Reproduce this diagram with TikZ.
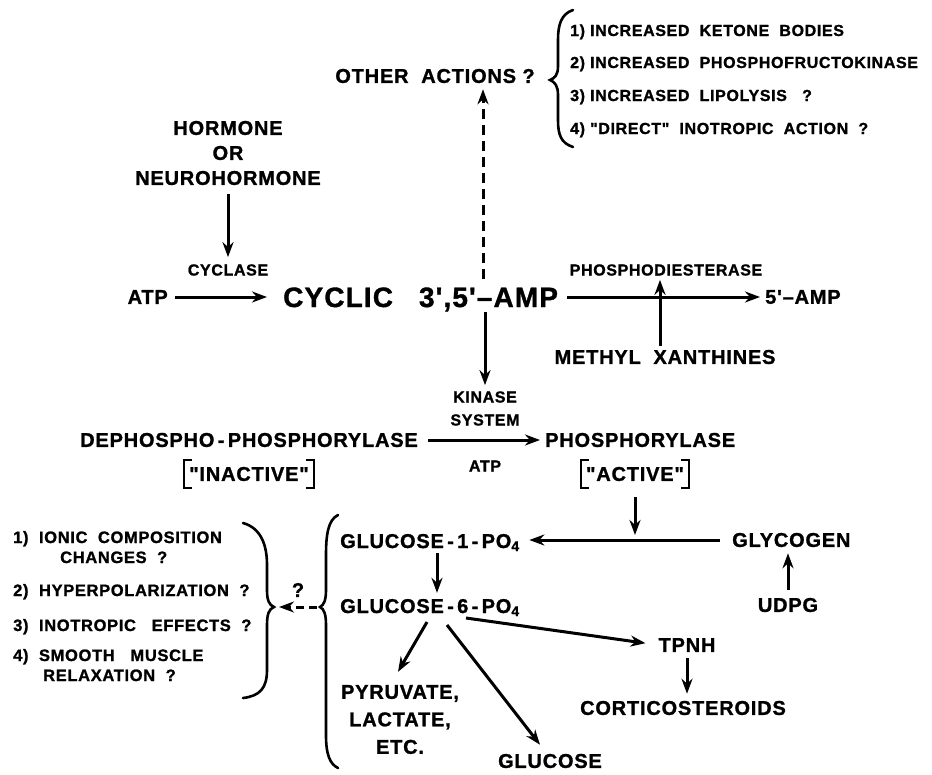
\documentclass[tikz,border=0pt]{standalone}
\usepackage{fontspec}
\setmainfont{Liberation Sans}[Ligatures=TeXOff, LetterSpace=4, BoldFeatures={FakeBold=1.2}]
\usetikzlibrary{arrows.meta}
\tikzset{
  arr/.style={line width=3pt, -{Stealth[length=15pt,width=11pt]}},
  darr/.style={arr, dash pattern=on 10pt off 6pt},
  brc/.style={line width=2.6pt, line cap=round},
  brk/.style={line width=2.2pt},
  L/.style={inner sep=0pt, font=\fontsize{20}{25}\selectfont\bfseries, align=center},
  LL/.style={inner sep=0pt, font=\fontsize{20}{27.5}\selectfont\bfseries, align=center},
  S/.style={inner sep=0pt, font=\fontsize{16}{23}\selectfont\bfseries, align=center},
  M/.style={inner sep=0pt, font=\fontsize{16.5}{20}\selectfont\bfseries, anchor=base west},
  MT/.style={inner sep=0pt, font=\fontsize{16}{20}\selectfont\bfseries, anchor=base west},
  B/.style={inner sep=0pt, font=\fontsize{28}{30}\selectfont\bfseries, anchor=base west},
}
\newcommand\subf[1]{\raisebox{-3pt}{\fontsize{14}{14}\selectfont #1}}
\begin{document}
\begin{tikzpicture}[x=1pt,y=-1pt]
\fill[white] (0,0) rectangle (932,774);
\useasboundingbox (0,0) rectangle (932,774);

% ---- top: other actions
\node[L] (other) at (435,76) {OTHER\ \ ACTIONS\ ?};
\node[MT] (t1) at (570,36) {1)\ INCREASED\ \ KETONE\ \ BODIES};
\node[MT] (t2) at (570,68) {2)\ INCREASED\ \ PHOSPHOFRUCTOKINASE};
\node[MT] (t3) at (570,101) {3)\ INCREASED\ \ LIPOLYSIS\ \ \ ?};
\node[MT] (t4) at (570,134) {4)\ "DIRECT"\ \ INOTROPIC\ \ ACTION\ \ ?};
\draw[brc] (573,10) .. controls (561,14) and (558,25) .. (558,40) -- (558,66)
  .. controls (558,75) and (555,78) .. (550,80)
  .. controls (555,82) and (558,86) .. (558,95) -- (558,120)
  .. controls (558,135) and (561,143) .. (573,147);

% ---- hormone
\node[L] (horm) at (228,153) {HORMONE\\OR\\NEUROHORMONE};
\node[S] (cyclase) at (228,270) {CYCLASE};
\draw[arr, shorten <=9pt, shorten >=7pt] (horm.south) -- (cyclase.north);

% ---- cyclic AMP line
\node[L, anchor=east] (atp1) at (168,297) {ATP};
\node[B] (cyc) at (283,307) {CYCLIC\hspace{26pt}3',5'–AMP};
\node[L, anchor=west] (amp5) at (765,297) {5'–AMP};
\node[S] (pde) at (666,270) {PHOSPHODIESTERASE};
\node[L] (methyl) at (665,357) {METHYL\ \ XANTHINES};
\coordinate (mx) at (660,300);
\coordinate (hubT) at (483,279);
\coordinate (hubB) at (485,312);

\draw[arr, shorten <=7pt, shorten >=16pt] (atp1.east) -- (atp1.east -| cyc.west);
\draw[arr, shorten <=9pt, shorten >=5pt] (cyc.east |- amp5.west) -- (amp5.west);
\draw[arr, shorten <=4pt, shorten >=4pt] (methyl.north -| mx) -- (pde.south -| mx);
\draw[darr, shorten >=6pt] (hubT) -- (other.south -| hubT);

% ---- kinase
\node[S] (kinase) at (485,408.5) {KINASE\\SYSTEM};
\draw[arr, shorten >=6pt] (hubB) -- (kinase.north -| hubB);

\node[L, anchor=east] (deph) at (418,440) {DEPHOSPHO\,-\,PHOSPHORYLASE};
\node[L, anchor=west] (phos) at (545,440) {PHOSPHORYLASE};
\draw[arr, shorten <=10pt, shorten >=5pt] (deph.east) -- (phos.west);

\node[L] (inact) at (249,474) {"INACTIVE"};
\node[S] (atp2) at (485,466) {ATP};
\node[L] (act) at (635,474) {"ACTIVE"};
\draw[brk] ([xshift=3pt,yshift=14pt]inact.west) -- ([xshift=-5pt,yshift=14pt]inact.west)
  -- ([xshift=-5pt,yshift=-14pt]inact.west) -- ([xshift=3pt,yshift=-14pt]inact.west);
\draw[brk] ([xshift=-3pt,yshift=14pt]inact.east) -- ([xshift=5pt,yshift=14pt]inact.east)
  -- ([xshift=5pt,yshift=-14pt]inact.east) -- ([xshift=-3pt,yshift=-14pt]inact.east);
\draw[brk] ([xshift=3pt,yshift=14pt]act.west) -- ([xshift=-5pt,yshift=14pt]act.west)
  -- ([xshift=-5pt,yshift=-14pt]act.west) -- ([xshift=3pt,yshift=-14pt]act.west);
\draw[brk] ([xshift=-3pt,yshift=14pt]act.east) -- ([xshift=5pt,yshift=14pt]act.east)
  -- ([xshift=5pt,yshift=-14pt]act.east) -- ([xshift=-3pt,yshift=-14pt]act.east);

% ---- glycogen part
\node[L, anchor=west] (glyc) at (732,540) {GLYCOGEN};
\node[L] (udpg) at (788,605) {UDPG};
\node[L, anchor=base west] (g1p) at (340,548) {GLUCOSE\,-\,1\,-\,PO\subf{4}};
\node[L, anchor=base west] (g6p) at (340,613) {GLUCOSE\,-\,6\,-\,PO\subf{4}};
\coordinate (j) at (635,540);
\coordinate (gx) at (437,580);
\draw[arr, shorten <=16pt, shorten >=5pt] (act.south) -- (j);
\draw[arr, shorten <=12pt, shorten >=10pt] (glyc.west) -- (g1p.east |- glyc.west);
\draw[arr, shorten <=8pt, shorten >=6pt] (udpg.north) -- (udpg.north |- glyc.south);
\draw[arr, shorten <=2pt, shorten >=6pt] (g1p.south -| gx) -- (g6p.north -| gx);

\node[LL] (pyr) at (400,719.5) {PYRUVATE,\\LACTATE,\\ETC.};
\node[L] (glucose) at (550,761) {GLUCOSE};
\node[L] (tpnh) at (687,645) {TPNH};
\node[L] (cortico) at (683,708) {CORTICOSTEROIDS};

\draw[arr] ([xshift=87pt,yshift=-9pt]g6p.base west) -- ([xshift=-2pt,yshift=13pt]pyr.north);
\draw[arr] ([xshift=107pt,yshift=-12pt]g6p.base west) -- ([xshift=-10pt,yshift=9pt]glucose.north);
\draw[arr, shorten >=13pt] ([xshift=126pt,yshift=-5pt]g6p.base west) -- (tpnh.west);
\draw[arr, shorten <=6pt, shorten >=7pt] (tpnh.south) -- (tpnh.south |- cortico.north);

% ---- braces and left list
\coordinate (gtip) at (320,607);
\coordinate (ltip) at (274,607);
\draw[brc] (338,515) .. controls (328,520) and (326,535) .. (326,555) -- (326,590)
  .. controls (326,600) and (324,605) .. (gtip)
  .. controls (324,609) and (326,614) .. (326,625) -- (326,735)
  .. controls (326,755) and (330,764) .. (338,768);
\draw[brc] (243,523) .. controls (261,528) and (267,545) .. (267,565) -- (267,590)
  .. controls (267,600) and (269,605) .. (ltip)
  .. controls (269,609) and (267,614) .. (267,625) -- (267,670)
  .. controls (267,688) and (260,696) .. (243,698);
\draw[darr, dash pattern=on 8pt off 5pt, shorten <=3pt, shorten >=5pt] (gtip) -- (ltip);
\node[L] (q) at (298,590) {?};

\node[M] (l1) at (13,543) {1)\ \ IONIC\ \ COMPOSITION};
\node[M] (l1b) at (60,563) {CHANGES\ \ ?};
\node[M] (l2) at (13,596) {2)\ \ HYPERPOLARIZATION\ \ ?};
\node[M] (l3) at (13,631) {3)\ \ INOTROPIC\ \ \ EFFECTS\ \ ?};
\node[M] (l4) at (13,661) {4)\ \ SMOOTH\ \ \ MUSCLE};
\node[M] (l4b) at (43,681) {RELAXATION\ \ ?};
\end{tikzpicture}
\end{document}
